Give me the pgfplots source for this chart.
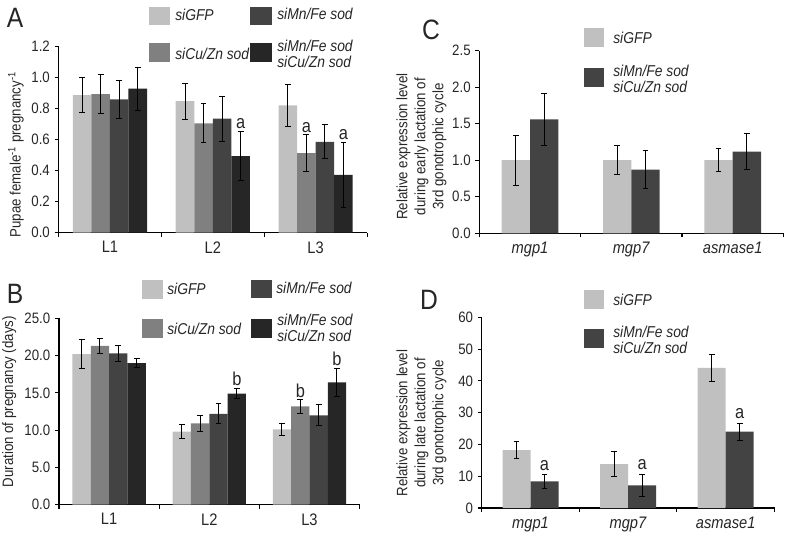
\documentclass[border=0pt]{standalone}
\usepackage{fontspec}
\setmainfont{Liberation Sans}[FakeStretch=0.88]
\usepackage{pgfplots}
\pgfplotsset{compat=1.18}

\definecolor{cGFP}{HTML}{C0C0C0}
\definecolor{cCu}{HTML}{808080}
\definecolor{cMn}{HTML}{434343}
\definecolor{cDbl}{HTML}{262626}
\definecolor{txt}{HTML}{262626}

\pgfplotsset{
 panel/.style={
  scale only axis,
  anchor=south west,
  axis x line*=bottom, axis y line*=left,
  axis line style={-, line width=0.9pt, black},
  tick align=outside,
  tick style={black, line width=0.8pt},
  major tick length=3pt,
  ybar=0pt,
  xmin=-0.5, xmax=2.5,
  xtick={-0.5,0.5,1.5,2.5},
  x tick label as interval,
  ymin=0,
  yticklabel style={font=\fontsize{11.3}{13}\selectfont, text=txt},
  xticklabel style={font=\fontsize{12.5}{14}\selectfont, text=txt},
  /pgf/number format/assume math mode=true,
  ylabel style={font=\fontsize{11.3}{13.5}\selectfont, text=txt, anchor=center, align=center},
  enlargelimits=false,
  clip=false,
 },
 eb/.style={draw=none, error bars/.cd, y dir=both, y explicit,
   error bar style={draw=black, line width=0.7pt},
   error mark options={rotate=90, mark size=2.2pt, line width=0.7pt, draw=black}},
 onedec/.style={yticklabel style={/pgf/number format/.cd, fixed, fixed zerofill, precision=1}},
}
\tikzset{lab/.style={font=\fontsize{14}{14}\selectfont, text=txt, anchor=south, inner sep=1.5pt}}

\begin{document}
\begin{tikzpicture}
\useasboundingbox (0,0) rectangle (590.25pt,402.75pt);

% ---------------- Panel A
\begin{axis}[panel, onedec, at={(43.9pt,228.2pt)}, width=231.4pt, height=139.5pt,
  bar width=13.9pt, ymax=1.2, ytick={0,0.2,...,1.2},
  xticklabels={L1,L2,L3},
  ylabel={Pupae female\textsuperscript{-1} pregnancy\textsuperscript{-1}},
  ylabel style={at={(axis description cs:-0.138,0.42)}}]
\addplot[fill=cGFP, eb] coordinates {(0,0.888) +- (0,0.113) (1,0.849) +- (0,0.115) (2,0.822) +- (0,0.137)};
\addplot[fill=cCu, eb] coordinates {(0,0.895) +- (0,0.125) (1,0.706) +- (0,0.125) (2,0.513) +- (0,0.12)};
\addplot[fill=cMn, eb] coordinates {(0,0.860) +- (0,0.125) (1,0.737) +- (0,0.145) (2,0.587) +- (0,0.11)};
\addplot[fill=cDbl, eb] coordinates {(0,0.929) +- (0,0.14) (1,0.495) +- (0,0.16) (2,0.374) +- (0,0.21)};
\node[lab] at (1.27,0.655) {a};
\node[lab] at (1.91,0.633) {a};
\node[lab] at (2.27,0.584) {a};
\end{axis}

% ---------------- Panel B
\begin{axis}[panel, onedec, at={(44.25pt,24.2pt)}, width=225.4pt, height=139.8pt,
  bar width=13.75pt, ymax=25, ytick={0,5,...,25},
  xticklabels={L1,L2,L3},
  ylabel={Duration of pregnancy (days)},
  ylabel style={at={(axis description cs:-0.166,0.553)}}]
\addplot[fill=cGFP, eb] coordinates {(0,20.2) +- (0,1.9) (1,9.8) +- (0,0.9) (2,10.1) +- (0,0.8)};
\addplot[fill=cCu, eb] coordinates {(0,21.3) +- (0,1.05) (1,10.9) +- (0,1.1) (2,13.2) +- (0,0.9)};
\addplot[fill=cMn, eb] coordinates {(0,20.3) +- (0,1.1) (1,12.2) +- (0,1.35) (2,12.0) +- (0,1.4)};
\addplot[fill=cDbl, eb] coordinates {(0,19.0) +- (0,0.6) (1,14.9) +- (0,0.7) (2,16.4) +- (0,1.9)};
\node[lab] at (1.275,15.6) {b};
\node[lab] at (1.91,14.1) {b};
\node[lab] at (2.275,18.3) {b};
\end{axis}

% ---------------- Panel C
\begin{axis}[panel, onedec, at={(359.5pt,227.8pt)}, width=228pt, height=137pt,
  bar width=21.25pt, ymax=2.5, ytick={0,0.5,...,2.5},
  xticklabels={\textit{mgp1},\textit{mgp7},\textit{asmase1}},
  ylabel={Relative expression level\\during early lactation of\\3rd gonotrophic cycle},
  ylabel style={at={(axis description cs:-0.19,0.475)}}]
\addplot[fill=cGFP, eb] coordinates {(0,1.0) +- (0,0.345) (1,1.0) +- (0,0.2) (2,1.0) +- (0,0.16)};
\addplot[fill=cMn, eb] coordinates {(0,1.56) +- (0,0.36) (1,0.871) +- (0,0.26) (2,1.118) +- (0,0.245)};
\end{axis}

% ---------------- Panel D
\begin{axis}[panel, at={(361.3pt,21.75pt)}, width=219.6pt, height=143pt,
  bar width=21pt, ymax=60, ytick={0,10,...,60},
  xticklabels={\textit{mgp1},\textit{mgp7},\textit{asmase1}},
  ylabel={Relative expression level\\during late lactation of\\3rd gonotrophic cycle},
  ylabel style={at={(axis description cs:-0.206,0.446)}}]
\addplot[fill=cGFP, eb] coordinates {(0,18.2) +- (0,2.7) (1,13.8) +- (0,4.0) (2,44.1) +- (0,4.25)};
\addplot[fill=cMn, eb] coordinates {(0,8.4) +- (0,2.1) (1,7.1) +- (0,3.5) (2,24.0) +- (0,2.7)};
\node[lab, inner sep=3pt] at (0.1435,10.5) {a};
\node[lab, inner sep=3pt] at (1.1435,10.6) {a};
\node[lab, inner sep=3pt] at (2.1435,26.7) {a};
\end{axis}

% ---------------- legends and panel letters (pixel coordinates)
\begin{scope}[x=0.75pt, y=-0.75pt, yshift=402.75pt,
  lt/.style={anchor=west, inner sep=0pt, font=\fontsize{11.8}{12}\selectfont\itshape, text=txt, align=left},
  pl/.style={font=\fontsize{21}{22}\selectfont, text=txt, inner sep=0pt}]
% A
\fill[cGFP] (149,7) rectangle (170,25);  \node[lt] at (175,15) {siGFP};
\fill[cMn]  (250,7) rectangle (272,25);  \node[lt] at (277,14) {siMn/Fe sod};
\fill[cCu]  (149,43) rectangle (170,62); \node[lt] at (175,54) {siCu/Zn sod};
\fill[cDbl] (250,43) rectangle (272,62); \node[lt] at (277,53.5) {siMn/Fe sod\\siCu/Zn sod};
% B
\fill[cGFP] (142,280) rectangle (163,299); \node[lt] at (167,289) {siGFP};
\fill[cMn]  (251,280) rectangle (272,298); \node[lt] at (276,288) {siMn/Fe sod};
\fill[cCu]  (142,319) rectangle (163,338); \node[lt] at (167,329) {siCu/Zn sod};
\fill[cDbl] (251,319) rectangle (272,338); \node[lt] at (277,327.5) {siMn/Fe sod\\siCu/Zn sod};
% C
\fill[cGFP] (584,28) rectangle (604,47); \node[lt] at (613,38) {siGFP};
\fill[cMn]  (584,68) rectangle (604,87); \node[lt] at (613,78.5) {siMn/Fe sod\\siCu/Zn sod};
% D
\fill[cGFP] (584,290) rectangle (604,309); \node[lt] at (613,300) {siGFP};
\fill[cMn]  (584,329) rectangle (604,348); \node[lt] at (613,339.5) {siMn/Fe sod\\siCu/Zn sod};
% letters
\node[pl] at (15,18) {A};
\node[pl] at (15,294) {B};
\node[pl] at (431,30) {C};
\node[pl] at (429,300) {D};
\end{scope}
\end{tikzpicture}
\end{document}
